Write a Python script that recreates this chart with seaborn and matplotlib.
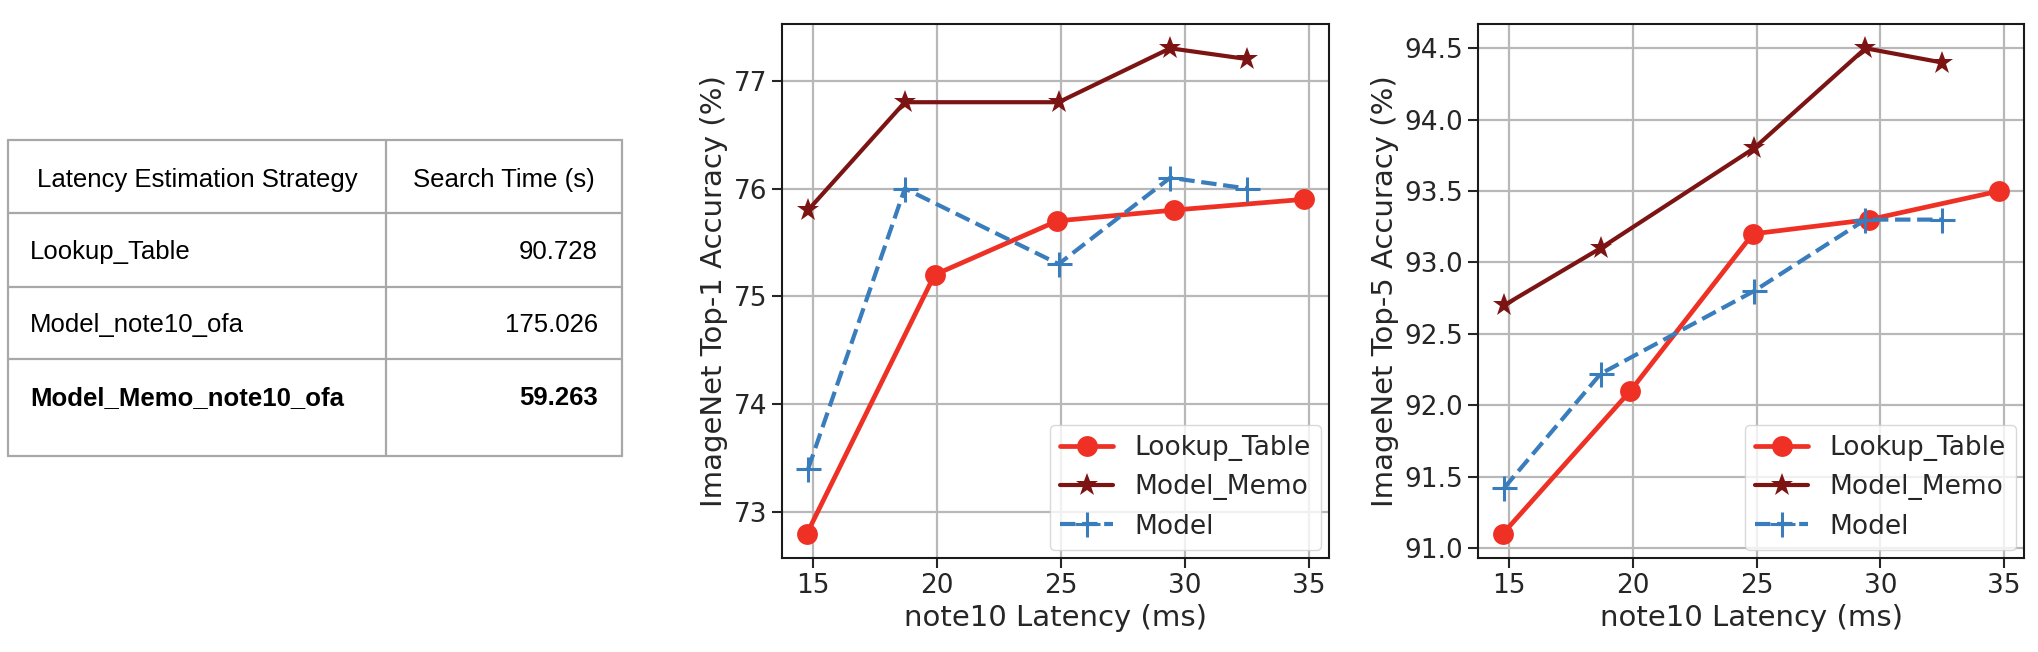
import matplotlib
matplotlib.use("Agg")
import matplotlib.pyplot as plt
import seaborn as sns

# table
table_header = ["Latency Estimation Strategy", "Search Time (s)"]
table_strategy = ["Lookup_Table", "Model_note10_ofa", "Model_Memo_note10_ofa"]
table_time = ["90.728", "175.026", "59.263"]

# latencies (ms)
lat_lookup = [14.75, 19.9, 24.85, 29.55, 34.8]
lat_model = [14.8, 18.7, 24.9, 29.4, 32.5]

top1_lookup = [72.8, 75.2, 75.7, 75.8, 75.9]
top1_memo = [75.8, 76.8, 76.8, 77.3, 77.2]
top1_model = [73.4, 76.0, 75.3, 76.1, 76.0]

top5_lookup = [91.1, 92.1, 93.2, 93.3, 93.5]
top5_memo = [92.7, 93.1, 93.8, 94.5, 94.4]
top5_model = [91.42, 92.22, 92.8, 93.3, 93.3]

sns.set_theme(style="ticks", rc={
    "axes.grid": True,
    "grid.color": "#b8b8b8",
    "grid.linewidth": 1.6,
    "axes.edgecolor": "#1a1a1a",
    "axes.linewidth": 1.5,
    "xtick.major.size": 7,
    "ytick.major.size": 7,
    "xtick.major.width": 1.5,
    "ytick.major.width": 1.5,
    "xtick.labelsize": 19,
    "ytick.labelsize": 19,
    "axes.labelsize": 21,
    "legend.fontsize": 19,
})
plt.rcParams["font.family"] = ["DejaVu Sans"]

W, H = 2038, 652
fig = plt.figure(figsize=(W / 100, H / 100), dpi=100)

# ---- table on the left, drawn in pixel coordinates
tax = fig.add_axes([0, 0, 1, 1])
tax.set_xlim(0, W)
tax.set_ylim(H, 0)
tax.axis("off")
col_x = [8, 386, 622]
row_y = [140, 213, 287, 359, 456]
for y in row_y:
    tax.plot([col_x[0], col_x[-1]], [y, y], color="#a8a8a8", lw=1.6)
for x in col_x:
    tax.plot([x, x], [row_y[0], row_y[-1]], color="#a8a8a8", lw=1.6)

tfont = dict(family=["Liberation Sans", "DejaVu Sans"], fontsize=18.5, color="black", va="center")
tax.text((col_x[0] + col_x[1]) / 2, 180, table_header[0], ha="center", **tfont)
tax.text((col_x[1] + col_x[2]) / 2, 180, table_header[1], ha="center", **tfont)
text_y = [252, 325, 398]
for i, (name, t) in enumerate(zip(table_strategy, table_time)):
    weight = "bold" if i == len(table_strategy) - 1 else "normal"
    tax.text(30, text_y[i], name, ha="left", fontweight=weight, **tfont)
    tax.text(598, text_y[i], t, ha="right", fontweight=weight, **tfont)

# ---- line charts
c_lookup = "#ee3124"
c_memo = "#7d1414"
c_model = "#3a7dbd"

ax1 = fig.add_axes([782 / W, 1 - 558 / H, 547 / W, 534 / H])
ax2 = fig.add_axes([1478 / W, 1 - 558 / H, 546 / W, 534 / H])

for ax, lookup, memo, model, ylab in [
    (ax1, top1_lookup, top1_memo, top1_model, "ImageNet Top-1 Accuracy (%)"),
    (ax2, top5_lookup, top5_memo, top5_model, "ImageNet Top-5 Accuracy (%)"),
]:
    sns.lineplot(x=lat_lookup, y=lookup, ax=ax, color=c_lookup, marker="o",
                 markersize=15, markeredgewidth=0, linewidth=3.4, label="Lookup_Table")
    sns.lineplot(x=lat_model, y=memo, ax=ax, color=c_memo, marker="*",
                 markersize=17, markeredgewidth=0, linewidth=3.0, label="Model_Memo")
    sns.lineplot(x=lat_model, y=model, ax=ax, color=c_model, marker="+",
                 markersize=18, markeredgewidth=2.2, markeredgecolor=c_model,
                 linewidth=3.0, linestyle="--", label="Model")
    ax.set_xlabel("note10 Latency (ms)", color="#262626")
    ax.set_ylabel(ylab, color="#262626")
    ax.set_xticks([15, 20, 25, 30, 35])
    ax.tick_params(colors="#262626")
    ax.grid(True)
    for s in ax.spines.values():
        s.set_visible(True)
    ax.legend(loc="lower right", borderaxespad=0.3, framealpha=0.8, edgecolor="#d0d0d0")

ax1.set_yticks([73, 74, 75, 76, 77])
ax2.set_yticks([91.0, 91.5, 92.0, 92.5, 93.0, 93.5, 94.0, 94.5])
ax2.set_yticklabels(["91.0", "91.5", "92.0", "92.5", "93.0", "93.5", "94.0", "94.5"])

fig.savefig("out.png", dpi=100)
